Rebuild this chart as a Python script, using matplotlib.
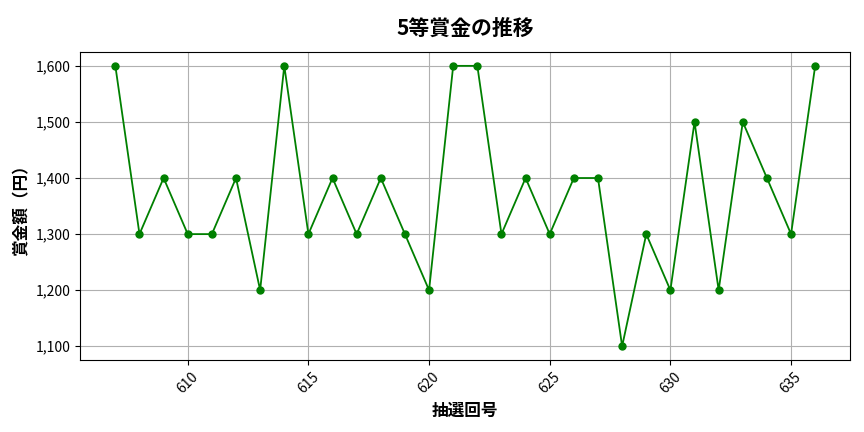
import matplotlib
matplotlib.use('Agg')
import matplotlib.pyplot as plt
from matplotlib.ticker import FuncFormatter

plt.rcParams['font.family'] = ['Noto Sans CJK JP', 'DejaVu Sans']

draws = list(range(607, 637))
prizes = [1600, 1300, 1400, 1300, 1300, 1400, 1200, 1600, 1300, 1400,
          1300, 1400, 1300, 1200, 1600, 1600, 1300, 1400, 1300, 1400,
          1400, 1100, 1300, 1200, 1500, 1200, 1500, 1400, 1300, 1600]

fig, ax = plt.subplots(figsize=(8.64, 4.32), dpi=100)
ax.plot(draws, prizes, color='green', marker='o', markersize=5, linewidth=1.3)
ax.set_title('5等賞金の推移', fontsize=15, fontweight='bold', pad=12)
ax.set_xlabel('抽選回号', fontsize=12, fontweight='bold')
ax.set_ylabel('賞金額（円）', fontsize=12, fontweight='bold')
ax.yaxis.set_major_formatter(FuncFormatter(lambda v, p: f'{int(v):,}'))
ax.tick_params(axis='x', labelrotation=45)
ax.grid(True, color='#b0b0b0', linewidth=0.8)
fig.subplots_adjust(left=0.093, right=0.984, top=0.88, bottom=0.166)
fig.savefig('out.png')
